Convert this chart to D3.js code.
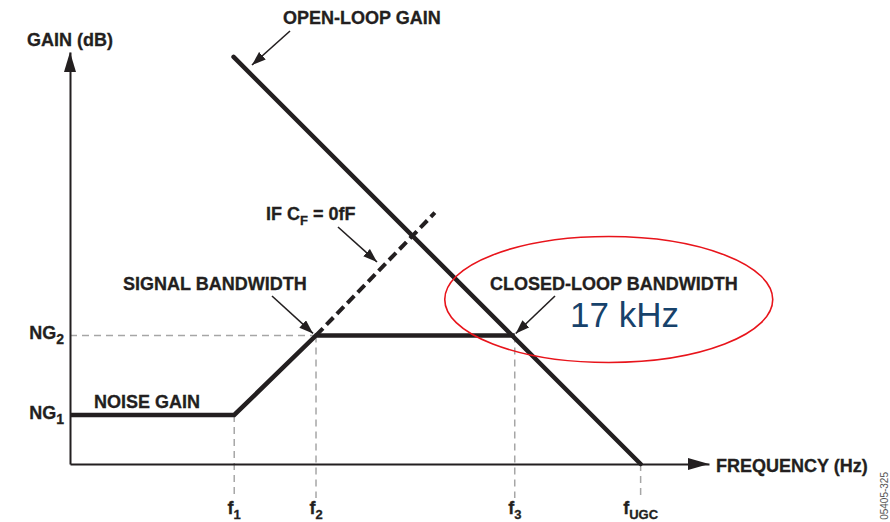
<!DOCTYPE html>
<html>
<head>
<meta charset="utf-8">
<script src="https://cdn.jsdelivr.net/npm/d3@7"></script>
<style>
  body { margin: 0; background: #fff; }
  svg { display: block; }
  text { font-family: "Liberation Sans", Arial, sans-serif; }
</style>
</head>
<body>
<div id="chart"></div>
<script>
// frequency marks (relative log-frequency units)
const freqNames = ['f', 'f', 'f', 'f'];
const freqSubs = ['1', '2', '3', 'UGC'];
const freqValues = [25.7, 38.5, 69.6, 89.3];

// gain levels (relative dB units)
const gainNames = ['NG', 'NG'];
const gainSubs = ['1', '2'];
const gainValues = [11.9, 31.2];

// noise gain curve
const noiseGainX = [0, 25.7, 38.5, 69.6];
const noiseGainY = [11.9, 11.9, 31.2, 31.2];

// open-loop gain (-20 dB/dec)
const openLoopX = [25.6, 89.3];
const openLoopY = [98.8, 0];

// noise gain if CF = 0fF (keeps rising)
const noCfX = [38.5, 57.1];
const noCfY = [31.2, 61];

const width = 890, height = 522;
const margin = { left: 70, right: 181, top: 52, bottom: 58 };

const x = d3.scaleLinear().domain([0, 100]).range([margin.left, width - margin.right]);
const y = d3.scaleLinear().domain([0, 100]).range([height - margin.bottom, margin.top]);

const svg = d3.select('#chart').append('svg')
    .attr('width', width)
    .attr('height', height);

const ink = '#231f20';

// arrow head for annotations
svg.append('defs').append('marker')
    .attr('id', 'head')
    .attr('markerUnits', 'userSpaceOnUse')
    .attr('viewBox', '0 0 14 10')
    .attr('refX', 14).attr('refY', 5)
    .attr('markerWidth', 14).attr('markerHeight', 10)
    .attr('orient', 'auto')
    .append('path')
    .attr('d', 'M0,0 L14,5 L0,10 Z')
    .attr('fill', ink);

const x0 = x(0), y0 = y(0);

// gray dashed guides
const guideTop = [gainValues[0], gainValues[1], gainValues[1], 0];
svg.selectAll('.vguide')
    .data(freqValues)
    .enter().append('line')
    .attr('class', 'vguide')
    .attr('x1', d => x(d)).attr('x2', d => x(d))
    .attr('y1', (d, i) => y(guideTop[i]))
    .attr('y2', y0 + 34)
    .attr('stroke', '#a6a6a6')
    .attr('stroke-width', 1.5)
    .attr('stroke-dasharray', '7,5');

svg.append('line')
    .attr('x1', x0).attr('x2', x(freqValues[1]))
    .attr('y1', y(gainValues[1])).attr('y2', y(gainValues[1]))
    .attr('stroke', '#a6a6a6')
    .attr('stroke-width', 1.5)
    .attr('stroke-dasharray', '7,5');

// axes (domain lines only)
const xAxis = svg.append('g')
    .attr('transform', `translate(0,${y0})`)
    .call(d3.axisBottom(x).tickValues([]).tickSizeOuter(0));
const yAxis = svg.append('g')
    .attr('transform', `translate(${x0},0)`)
    .call(d3.axisLeft(y).tickValues([]).tickSizeOuter(0));
[xAxis, yAxis].forEach(a => a.select('.domain')
    .attr('stroke', ink).attr('stroke-width', 2));

// axis arrow heads
const xEnd = x(100), yEnd = y(100);
svg.append('path')
    .attr('d', `M${xEnd},${y0} L${xEnd - 21},${y0 - 6} L${xEnd - 21},${y0 + 6} Z`)
    .attr('fill', ink);
svg.append('path')
    .attr('d', `M${x0},${yEnd} L${x0 - 6},${yEnd + 20} L${x0 + 6},${yEnd + 20} Z`)
    .attr('fill', ink);

const line = d3.line().x(d => x(d[0])).y(d => y(d[1]));

// dashed extension (CF = 0fF)
svg.append('path')
    .attr('d', line(d3.zip(noCfX, noCfY)))
    .attr('fill', 'none')
    .attr('stroke', ink)
    .attr('stroke-width', 4)
    .attr('stroke-dasharray', '10,5');

// noise gain
svg.append('path')
    .attr('d', line(d3.zip(noiseGainX, noiseGainY)))
    .attr('fill', 'none')
    .attr('stroke', ink)
    .attr('stroke-width', 4.5)
    .attr('stroke-linejoin', 'miter');

// open-loop gain
svg.append('path')
    .attr('d', line(d3.zip(openLoopX, openLoopY)))
    .attr('fill', 'none')
    .attr('stroke', ink)
    .attr('stroke-width', 4.5)
    .attr('stroke-linecap', 'round');

// labels with subscripts
function subLabel(g, px, py, main, sub, anchor, size, subSize) {
    const t = g.append('text')
        .attr('x', px).attr('y', py)
        .attr('text-anchor', anchor)
        .attr('font-size', size)
        .attr('font-weight', 'bold')
        .attr('fill', ink)
        .attr('stroke', ink).attr('stroke-width', 0.3);
    t.append('tspan').text(main);
    t.append('tspan').attr('font-size', subSize).attr('dy', 5).text(sub);
    return t;
}

freqValues.forEach((v, i) => {
    subLabel(svg, x(v), y0 + 50, freqNames[i], freqSubs[i], 'middle', 18, 13);
});
gainValues.forEach((v, i) => {
    subLabel(svg, x0 - 6, y(v) + 4, gainNames[i], gainSubs[i], 'end', 18, 14);
});

function label(px, py, txt, opts = {}) {
    const t = svg.append('text')
        .attr('x', px).attr('y', py)
        .attr('text-anchor', opts.anchor || 'start')
        .attr('font-size', opts.size || 18)
        .attr('font-weight', opts.weight || 'bold')
        .attr('fill', opts.fill || ink)
        .text(txt);
    if (!opts.weight) t.attr('stroke', ink).attr('stroke-width', 0.3);
    return t;
}

function arrow(x1, y1, x2, y2) {
    svg.append('line')
        .attr('x1', x1).attr('y1', y1)
        .attr('x2', x2).attr('y2', y2)
        .attr('stroke', ink)
        .attr('stroke-width', 1.6)
        .attr('marker-end', 'url(#head)');
}

label(27, 46, 'GAIN (dB)');
label(xEnd + 7, y0 + 8, 'FREQUENCY (Hz)');

// open-loop annotation
label(283, 24, 'OPEN-LOOP GAIN');
arrow(290, 31, 252, 65);

// noise gain
label(94, 408, 'NOISE GAIN');

// signal bandwidth
const f2x = x(freqValues[1]), ng2y = y(gainValues[1]);
label(123, 290, 'SIGNAL BANDWIDTH');
arrow(272, 296, f2x - 3, ng2y - 2);

// if CF = 0fF
const cf = svg.append('text')
    .attr('x', 266).attr('y', 220)
    .attr('font-size', 18).attr('font-weight', 'bold').attr('fill', ink)
    .attr('stroke', ink).attr('stroke-width', 0.3);
cf.append('tspan').text('IF C');
cf.append('tspan').attr('font-size', 13).attr('dy', 5).text('F');
cf.append('tspan').attr('dy', -5).text(' = 0fF');
arrow(338, 227, 377, 262);

// closed-loop bandwidth
const f3x = x(freqValues[2]);
label(490, 290, 'CLOSED-LOOP BANDWIDTH');
arrow(555, 296, f3x + 1, ng2y - 2);

label(570, 327, '17 kHz', { size: 35, weight: 'normal', fill: '#17426b' });

svg.append('ellipse')
    .attr('cx', f3x + 94).attr('cy', ng2y - 36)
    .attr('rx', 164).attr('ry', 63)
    .attr('fill', 'none')
    .attr('stroke', '#e8141b')
    .attr('stroke-width', 1.6);

// figure id
svg.append('text')
    .attr('transform', 'translate(888,472) rotate(-90)')
    .attr('text-anchor', 'end')
    .attr('font-size', 10)
    .attr('fill', '#555')
    .text('05405-325');
</script>
</body>
</html>
